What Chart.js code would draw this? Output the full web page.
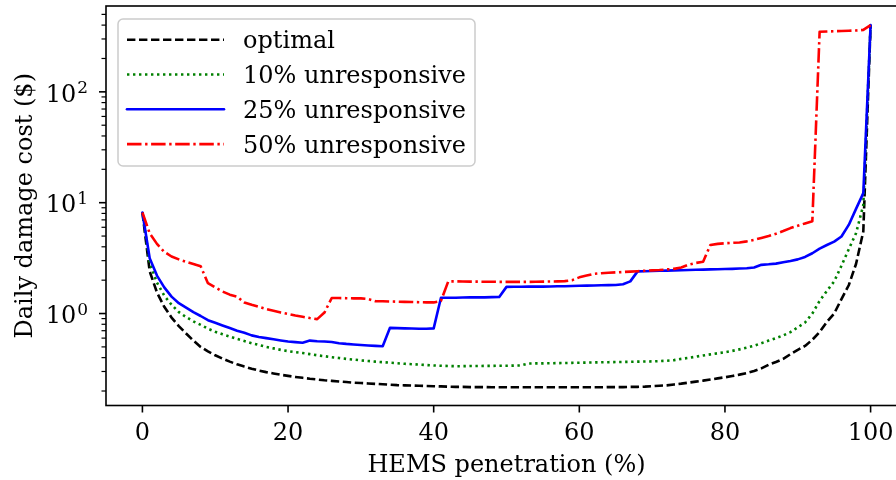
<!DOCTYPE html>
<html>
<head>
<meta charset="utf-8">
<title>HEMS penetration vs daily damage cost</title>
<script src="https://cdn.jsdelivr.net/npm/chart.js@4.4.1/dist/chart.umd.min.js"></script>
<style>
  html, body { margin: 0; padding: 0; background: #fff; overflow: hidden; }
  canvas { display: block; }
</style>
</head>
<body>
<canvas id="myChart" width="920" height="480"></canvas>
<script>
// HEMS penetration (%) at each simulated step
const penetration = [
  0, 1, 2, 3, 4, 5, 6, 7, 8, 9, 10, 11, 12, 13, 14, 15, 16, 17, 18, 19,
  20, 21, 22, 23, 24, 25, 26, 27, 28, 29, 30, 31, 32, 33, 34, 35, 36, 37, 38, 39,
  40, 41, 42, 43, 44, 45, 46, 47, 48, 49, 50, 51, 52, 53, 54, 55, 56, 57, 58, 59,
  60, 61, 62, 63, 64, 65, 66, 67, 68, 69, 70, 71, 72, 73, 74, 75, 76, 77, 78, 79,
  80, 81, 82, 83, 84, 85, 86, 87, 88, 89, 90, 91, 92, 93, 94, 95, 96, 97, 98, 99,
  100
];

// daily damage cost ($)
const optimal = [
  8.16, 2.4, 1.55, 1.15, 0.92, 0.77, 0.66, 0.57, 0.5, 0.455,
  0.42, 0.392, 0.368, 0.348, 0.332, 0.318, 0.306, 0.296, 0.288, 0.28,
  0.274, 0.268, 0.263, 0.258, 0.254, 0.25, 0.247, 0.244, 0.241, 0.238,
  0.236, 0.234, 0.232, 0.23, 0.228, 0.226, 0.225, 0.224, 0.223, 0.222,
  0.221, 0.22, 0.219, 0.218, 0.218, 0.217, 0.217, 0.217, 0.216, 0.216,
  0.216, 0.216, 0.216, 0.216, 0.216, 0.216, 0.216, 0.216, 0.216, 0.216,
  0.216, 0.216, 0.216, 0.216, 0.217, 0.217, 0.217, 0.218, 0.218, 0.219,
  0.221, 0.223, 0.225, 0.229, 0.233, 0.238, 0.243, 0.248, 0.254, 0.26,
  0.266, 0.273, 0.281, 0.29, 0.303, 0.32, 0.345, 0.365, 0.39, 0.43,
  0.47, 0.51, 0.58, 0.68, 0.84, 1.0, 1.35, 1.8, 2.8, 5.5,
  400
];

const unresponsive10 = [
  8.16, 2.85, 1.9, 1.45, 1.2, 1.03, 0.93, 0.85, 0.79, 0.73,
  0.685, 0.65, 0.62, 0.59, 0.565, 0.54, 0.52, 0.5, 0.485, 0.47,
  0.458, 0.448, 0.44, 0.43, 0.42, 0.412, 0.404, 0.397, 0.39, 0.384,
  0.378, 0.373, 0.368, 0.364, 0.36, 0.356, 0.352, 0.349, 0.346, 0.343,
  0.34, 0.338, 0.336, 0.335, 0.335, 0.336, 0.336, 0.337, 0.337, 0.338,
  0.338, 0.339, 0.34, 0.354, 0.355, 0.355, 0.356, 0.357, 0.358, 0.359,
  0.36, 0.361, 0.362, 0.363, 0.364, 0.365, 0.366, 0.367, 0.368, 0.369,
  0.37, 0.372, 0.375, 0.38, 0.39, 0.398, 0.408, 0.418, 0.428, 0.438,
  0.448, 0.46, 0.475, 0.492, 0.512, 0.54, 0.57, 0.6, 0.635, 0.68,
  0.75, 0.83, 1.0, 1.3, 1.6, 1.95, 2.7, 3.8, 5.3, 9.5,
  400
];

const unresponsive25 = [
  8.16, 3.15, 2.2, 1.72, 1.42, 1.24, 1.13, 1.03, 0.95, 0.87,
  0.825, 0.78, 0.74, 0.7, 0.67, 0.635, 0.615, 0.6, 0.585, 0.572,
  0.56, 0.552, 0.545, 0.57, 0.562, 0.56, 0.553, 0.54, 0.532, 0.526,
  0.52, 0.515, 0.511, 0.507, 0.743, 0.738, 0.735, 0.732, 0.73, 0.73,
  0.735, 1.39, 1.39, 1.39, 1.395, 1.4, 1.4, 1.4, 1.405, 1.41,
  1.74, 1.745, 1.745, 1.75, 1.75, 1.75, 1.755, 1.76, 1.76, 1.77,
  1.78, 1.785, 1.79, 1.8, 1.805, 1.81, 1.84, 1.95, 2.4, 2.41,
  2.42, 2.43, 2.44, 2.45, 2.46, 2.47, 2.48, 2.49, 2.5, 2.51,
  2.52, 2.53, 2.545, 2.56, 2.6, 2.75, 2.78, 2.82, 2.9, 2.98,
  3.08, 3.24, 3.5, 3.85, 4.15, 4.45, 4.95, 6.3, 8.8, 12.2,
  400
];

const unresponsive50 = [
  8.16, 5.3, 4.25, 3.6, 3.27, 3.08, 2.93, 2.8, 2.67, 1.88,
  1.72, 1.58, 1.48, 1.42, 1.26, 1.2, 1.15, 1.1, 1.06, 1.02,
  0.99, 0.96, 0.935, 0.91, 0.89, 1.02, 1.38, 1.38, 1.375, 1.37,
  1.37, 1.35, 1.29, 1.29, 1.285, 1.28, 1.275, 1.27, 1.265, 1.26,
  1.26, 1.3, 1.95, 1.95, 1.945, 1.94, 1.94, 1.935, 1.935, 1.93,
  1.93, 1.93, 1.93, 1.93, 1.935, 1.94, 1.945, 1.95, 1.96, 2.0,
  2.12, 2.2, 2.28, 2.31, 2.33, 2.35, 2.37, 2.39, 2.41, 2.43,
  2.45, 2.47, 2.5, 2.53, 2.6, 2.76, 2.86, 2.93, 4.15, 4.25,
  4.3, 4.34, 4.38, 4.48, 4.62, 4.8, 5.0, 5.25, 5.55, 5.9,
  6.2, 6.5, 6.8, 348, 350, 352, 354, 356, 358, 362,
  400
];

const seriesLabels = ["optimal", "10% unresponsive", "25% unresponsive", "50% unresponsive"];
const xTicks = [0, 20, 40, 60, 80, 100];
const yDecades = [0, 1, 2];

const FONT = '"DejaVu Serif", serif';
const LW = 2.6;
const styles = [
  { color: "#000000", dash: [8.4, 3.6] },
  { color: "#008000", dash: [2.4, 3.6] },
  { color: "#0000ff", dash: [] },
  { color: "#ff0000", dash: [14.5, 3.6, 2.4, 3.6] },
];

function toPoints(values) {
  return values.map((v, i) => ({ x: penetration[i], y: v }));
}

const seriesValues = [optimal, unresponsive10, unresponsive25, unresponsive50];

const datasets = seriesValues.map((values, i) => ({
  label: seriesLabels[i],
  data: toPoints(values),
  borderColor: styles[i].color,
  borderDash: styles[i].dash,
  borderWidth: LW,
  borderCapStyle: styles[i].dash.length ? "butt" : "round",
  borderJoinStyle: "round",
  pointRadius: 0,
  tension: 0,
  fill: false,
  order: 3 - i, // later series on top
}));

// frame, ticks, labels and legend drawn by hand
const axesPlugin = {
  id: "axesPlugin",
  afterDraw(chart) {
    const { ctx, chartArea: a, scales } = chart;
    const xs = scales.x;
    const ys = scales.y;

    ctx.save();
    ctx.strokeStyle = "#000";
    ctx.fillStyle = "#000";
    ctx.lineWidth = 1.6;
    ctx.setLineDash([]);
    ctx.strokeRect(a.left, a.top, a.right - a.left, a.bottom - a.top);

    // x axis
    ctx.font = "24px " + FONT;
    ctx.textAlign = "center";
    ctx.textBaseline = "alphabetic";
    xTicks.forEach((v) => {
      const px = xs.getPixelForValue(v);
      ctx.beginPath();
      ctx.moveTo(px, a.bottom);
      ctx.lineTo(px, a.bottom + 7);
      ctx.stroke();
      ctx.fillText(String(v), px, a.bottom + 34.5);
    });

    // y axis, major ticks with 10^n labels
    yDecades.forEach((n) => {
      const py = ys.getPixelForValue(Math.pow(10, n));
      ctx.lineWidth = 1.6;
      ctx.beginPath();
      ctx.moveTo(a.left - 7, py);
      ctx.lineTo(a.left, py);
      ctx.stroke();

      const right = a.left - 18;
      ctx.textAlign = "left";
      ctx.font = "17px " + FONT;
      const expW = ctx.measureText(String(n)).width;
      ctx.font = "24px " + FONT;
      const baseW = ctx.measureText("10").width;
      const x0 = right - expW - baseW - 1;
      ctx.fillText("10", x0, py + 9.8);
      ctx.font = "17px " + FONT;
      ctx.fillText(String(n), x0 + baseW + 1, py + 1.6);
    });

    // minor ticks
    ctx.lineWidth = 1.2;
    for (let n = -1; n <= 2; n++) {
      for (let m = 2; m <= 9; m++) {
        const v = m * Math.pow(10, n);
        if (v < ys.min || v > ys.max) continue;
        const py = ys.getPixelForValue(v);
        ctx.beginPath();
        ctx.moveTo(a.left - 4.5, py);
        ctx.lineTo(a.left, py);
        ctx.stroke();
      }
    }

    // axis titles
    ctx.font = "24px " + FONT;
    ctx.textAlign = "center";
    ctx.fillText("HEMS penetration (%)", (a.left + 907) / 2, 472);
    ctx.save();
    ctx.translate(26, (a.top + a.bottom) / 2);
    ctx.rotate(-Math.PI / 2);
    ctx.textBaseline = "middle";
    ctx.fillText("Daily damage cost ($)", 0, 0);
    ctx.restore();

    // legend
    const box = { x: 118, y: 19, w: 357, h: 147, r: 5 };
    ctx.beginPath();
    ctx.moveTo(box.x + box.r, box.y);
    ctx.arcTo(box.x + box.w, box.y, box.x + box.w, box.y + box.h, box.r);
    ctx.arcTo(box.x + box.w, box.y + box.h, box.x, box.y + box.h, box.r);
    ctx.arcTo(box.x, box.y + box.h, box.x, box.y, box.r);
    ctx.arcTo(box.x, box.y, box.x + box.w, box.y, box.r);
    ctx.closePath();
    ctx.fillStyle = "rgba(255,255,255,0.8)";
    ctx.fill();
    ctx.strokeStyle = "#cccccc";
    ctx.lineWidth = 1.5;
    ctx.stroke();

    seriesLabels.forEach((label, i) => {
      const y = 39.7 + i * 34.8;
      ctx.strokeStyle = styles[i].color;
      ctx.lineWidth = LW;
      ctx.setLineDash(styles[i].dash);
      ctx.lineCap = styles[i].dash.length ? "butt" : "round";
      ctx.beginPath();
      ctx.moveTo(127, y);
      ctx.lineTo(224, y);
      ctx.stroke();
      ctx.setLineDash([]);
      ctx.fillStyle = "#000";
      ctx.textAlign = "left";
      ctx.textBaseline = "alphabetic";
      ctx.font = "24px " + FONT;
      ctx.fillText(label, 243, y + 8.5);
    });

    ctx.restore();
  },
};

const ctx = document.getElementById("myChart");
const myChart = new Chart(ctx, {
  type: "line",
  data: { datasets: datasets },
  options: {
    responsive: false,
    animation: false,
    devicePixelRatio: 1,
    layout: { padding: { left: 106, right: 13, top: 6, bottom: 74.5 } },
    plugins: { legend: { display: false }, tooltip: { enabled: false } },
    scales: {
      x: { type: "linear", min: -5, max: 105, display: false },
      y: { type: "logarithmic", min: 0.148, max: 595, display: false },
    },
  },
  plugins: [axesPlugin],
});
</script>
</body>
</html>
